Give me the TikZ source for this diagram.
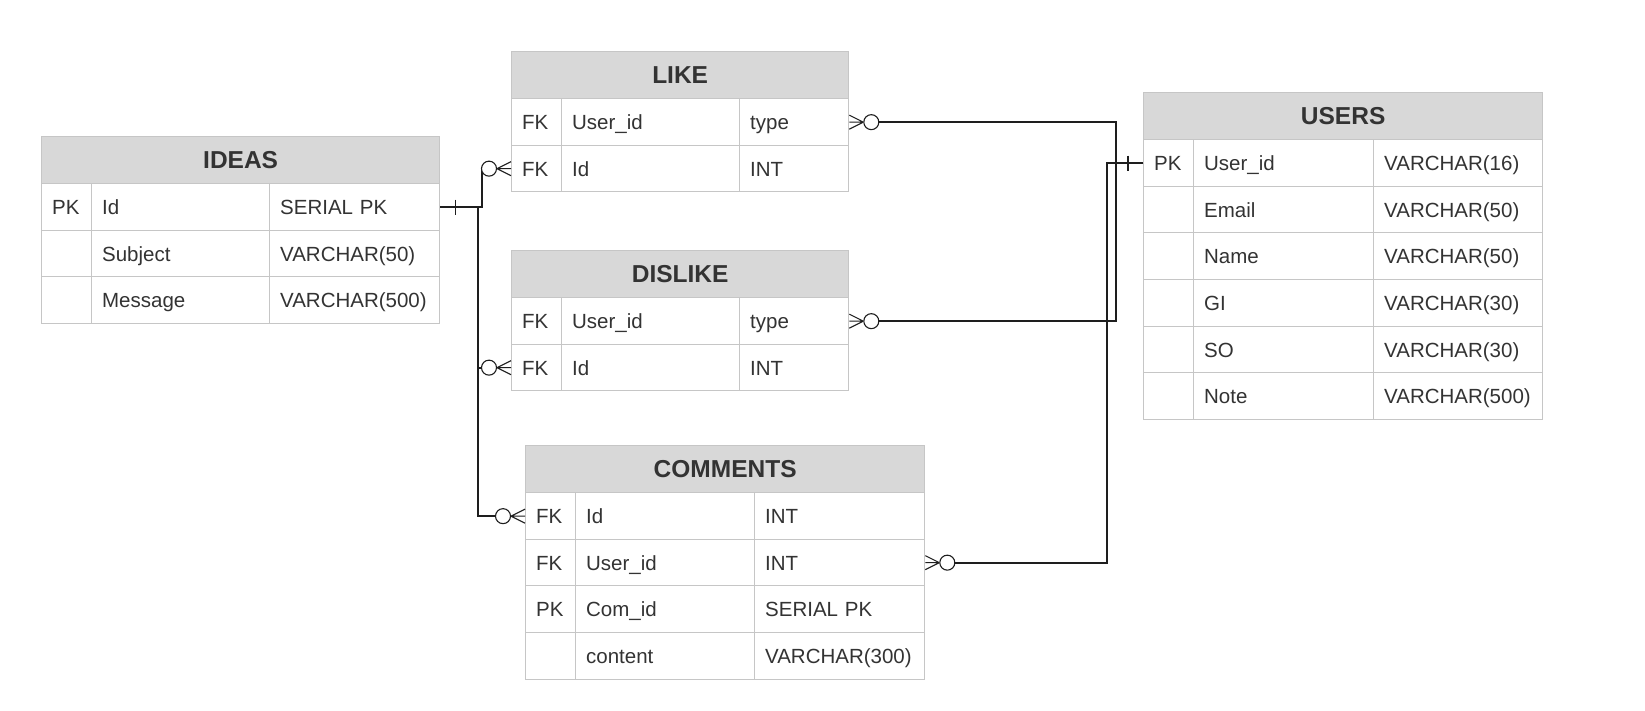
\documentclass[tikz,border=0pt]{standalone}
\usepackage{fontspec}
\setmainfont{Liberation Sans}
\usetikzlibrary{calc}
\definecolor{bordergray}{RGB}{198,198,198}
\definecolor{hdrgray}{RGB}{216,216,216}
\definecolor{txt}{RGB}{51,51,51}
\definecolor{linec}{RGB}{30,30,30}
\tikzset{
  cell/.style={draw=bordergray, line width=1.3pt, rectangle, anchor=north west,
    inner xsep=10.5pt, inner ysep=0pt, text height=14.7pt,
    text depth=0pt, align=left, text=txt, font=\fontsize{20.5pt}{24pt}\selectfont},
  hdr/.style={draw=bordergray, fill=hdrgray, line width=1.3pt, rectangle, anchor=north west,
    minimum height=47pt, inner xsep=0pt, inner ysep=0pt, text height=17.5pt,
    text depth=0pt, text=txt, font=\fontsize{24.5pt}{28pt}\selectfont\bfseries},
  conn/.style={draw=linec, line width=2pt},
  thinline/.style={draw=linec, line width=1.1pt},
}
% name, x, y, w2, w3, title, rows
\newcommand\ertable[7]{%
  \pgfmathsetmacro\tabw{50+#4+#5}%
  \pgfmathsetmacro\wbb{#4-21}%
  \pgfmathsetmacro\wcc{#5-21}%
  \node[hdr, minimum width=\tabw pt] (#1-h) at (#2,#3) {#6};
  \foreach \colA/\colB/\colC [count=\ri] in {#7} {
    \pgfmathsetmacro\ry{round(#3+47+46.67*(\ri-1))}
    \pgfmathsetmacro\rh{round(#3+47+46.67*\ri)-\ry}
    \node[cell, minimum height=\rh pt, text width=29pt] (#1-\ri-k) at (#2,\ry) {\colA};
    \node[cell, minimum height=\rh pt, text width=\wbb pt] (#1-\ri-f) at ({#2+50},\ry) {\colB};
    \node[cell, minimum height=\rh pt, text width=\wcc pt] (#1-\ri-t) at ({#2+50+#4},\ry) {\colC};
  }%
}
% anchor, direction (1 = outward right, -1 = outward left)
\newcommand\crowzero[2]{%
  \begin{scope}[shift={(#1)}, xscale=#2]
    \draw[thinline] (14,0) -- (0,7) (14,0) -- (0,0) (14,0) -- (0,-7);
    \draw[thinline, fill=white] (22,0) circle[radius=7.5pt];
  \end{scope}%
}
\begin{document}
\begin{tikzpicture}[x=1pt, y=-1pt]
\useasboundingbox[fill=white] (0,0) rectangle (1645,710);

\ertable{ideas}{41}{136}{178}{170}{IDEAS}{PK/Id/SERIAL PK, /Subject/VARCHAR(50), /Message/VARCHAR(500)}
\ertable{like}{511}{51}{178}{109}{LIKE}{FK/User\_id/type, FK/Id/INT}
\ertable{dislike}{511}{250}{178}{109}{DISLIKE}{FK/User\_id/type, FK/Id/INT}
\ertable{comments}{525}{445}{179}{170}{COMMENTS}{FK/Id/INT, FK/User\_id/INT, PK/Com\_id/SERIAL PK, /content/VARCHAR(300)}
\ertable{users}{1143}{92}{180}{169}{USERS}{PK/User\_id/VARCHAR(16), /Email/VARCHAR(50), /Name/VARCHAR(50), /GI/VARCHAR(30), /SO/VARCHAR(30), /Note/VARCHAR(500)}

% IDEAS -> LIKE, DISLIKE, COMMENTS
\draw[conn, shorten >=29.5pt] (ideas-1-t.east) -- ++(42,0) |- (like-2-k.west);
\draw[conn, shorten >=29.5pt] (ideas-1-t.east) -- ++(38,0) |- (dislike-2-k.west);
\draw[conn, shorten >=29.5pt] (ideas-1-t.east) -- ++(38,0) |- (comments-1-k.west);
\draw[thinline] ($(ideas-1-t.east)+(15,-7.5)$) -- ++(0,15);

% USERS -> LIKE, DISLIKE, COMMENTS
\draw[conn, shorten >=29.5pt] (users-1-k.west) -- ++(-27,0) |- (like-1-t.east);
\draw[conn, shorten >=29.5pt] (users-1-k.west) -- ++(-27,0) |- (dislike-1-t.east);
\draw[conn, shorten >=29.5pt] (users-1-k.west) -- ++(-36,0) |- (comments-2-t.east);
\draw[thinline] ($(users-1-k.west)+(-15,-7.5)$) -- ++(0,15);

\crowzero{like-2-k.west}{-1}
\crowzero{dislike-2-k.west}{-1}
\crowzero{comments-1-k.west}{-1}
\crowzero{like-1-t.east}{1}
\crowzero{dislike-1-t.east}{1}
\crowzero{comments-2-t.east}{1}
\end{tikzpicture}
\end{document}
